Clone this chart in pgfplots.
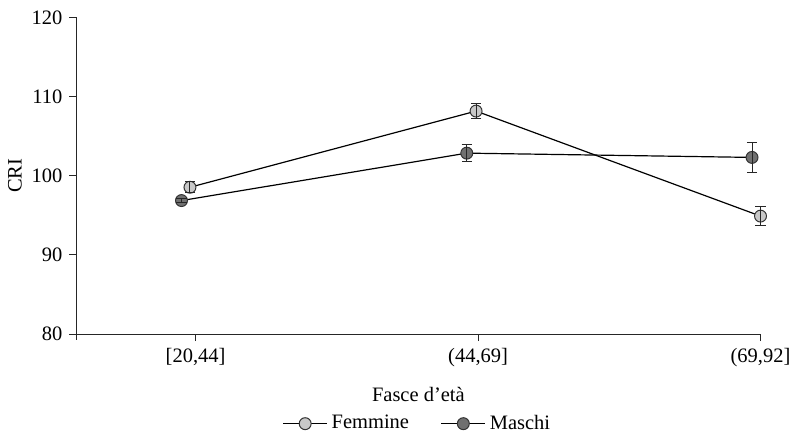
\documentclass[border=0pt]{standalone}
\usepackage{fontspec}
\setmainfont{Liberation Serif}
\usepackage{pgfplots}
\pgfplotsset{compat=1.18}
\usetikzlibrary{calc}
\definecolor{fem}{RGB}{200,200,200}
\definecolor{mas}{RGB}{112,112,112}
\begin{document}
\begin{tikzpicture}
\begin{axis}[name=ax, set layers,
  scale only axis, width=344pt, height=159.25pt,
  xmin=-0.4225, xmax=2, ymin=80, ymax=120,
  axis lines=left, axis line style={-, line width=0.5pt, black!85},
  xtick={0,1,2}, xticklabels={{[20,44]},{(44,69]},{(69,92]}},
  ytick={80,90,100,110,120},
  tick align=outside, major tick length=3.5pt,
  tick style={line width=0.5pt, black!85},
  /pgf/number format/assume math mode=true,
  font=\fontsize{10.3}{12}\selectfont,
  ticklabel style={font=\fontsize{10.3}{12}\selectfont},
  xlabel={Fasce d’età}, ylabel={CRI},
  xlabel style={at={(axis description cs:0.5,-0.1915)}, anchor=center},
  ylabel style={at={(axis description cs:-0.0897,0.5)}, anchor=center},
  legend style={at={(0.5,-0.2826)}, anchor=center, draw=none, legend columns=2,
    font=\fontsize{10.3}{12}\selectfont,
    /tikz/every even column/.append style={column sep=14pt}},
  legend image code/.code={\draw[#1] (0pt,0pt) -- (22pt,0pt); \draw[#1, mark repeat=1] plot coordinates {(11pt,0pt)};},
  clip=false,
]
\addplot[black, line width=0.6pt, mark=*, mark size=3pt,
  mark options={fill=fem, draw=black!80, line width=0.5pt}]
  coordinates {(-0.02,98.55) (0.993,108.17) (2.0,94.91)};
\addlegendentry{Femmine}
\addplot[black, line width=0.6pt, mark=*, mark size=3pt,
  mark options={fill=mas, draw=black!80, line width=0.5pt}]
  coordinates {(-0.05,96.87) (0.96,102.86) (1.97,102.32)};
\addlegendentry{Maschi}
\addplot[forget plot, on layer=axis foreground, black!85, draw opacity=0, mark=none,
  error bars/.cd, y dir=both, y explicit,
  error bar style={draw opacity=1, line width=0.5pt},
  error mark options={draw opacity=1, rotate=90, mark size=2.6pt, line width=0.5pt}]
  coordinates {(-0.02,98.55) +- (0,0.67) (0.993,108.17) +- (0,0.95) (2.0,94.91) +- (0,1.23)};
\addplot[forget plot, on layer=axis foreground, black!85, draw opacity=0, mark=none,
  error bars/.cd, y dir=both, y explicit,
  error bar style={draw opacity=1, line width=0.5pt},
  error mark options={draw opacity=1, rotate=90, mark size=2.6pt, line width=0.5pt}]
  coordinates {(-0.05,96.87) +- (0,0.3) (0.96,102.86) +- (0,1.09) (1.97,102.32) +- (0,1.93)};
\end{axis}
\draw[line width=0.5pt, black!85] (ax.south west) -- ++(0,-3pt);
\path[use as bounding box] ($(ax.south west)+(-38.35pt,-51pt)$) rectangle +(398.5pt,219pt);
\end{tikzpicture}
\end{document}
